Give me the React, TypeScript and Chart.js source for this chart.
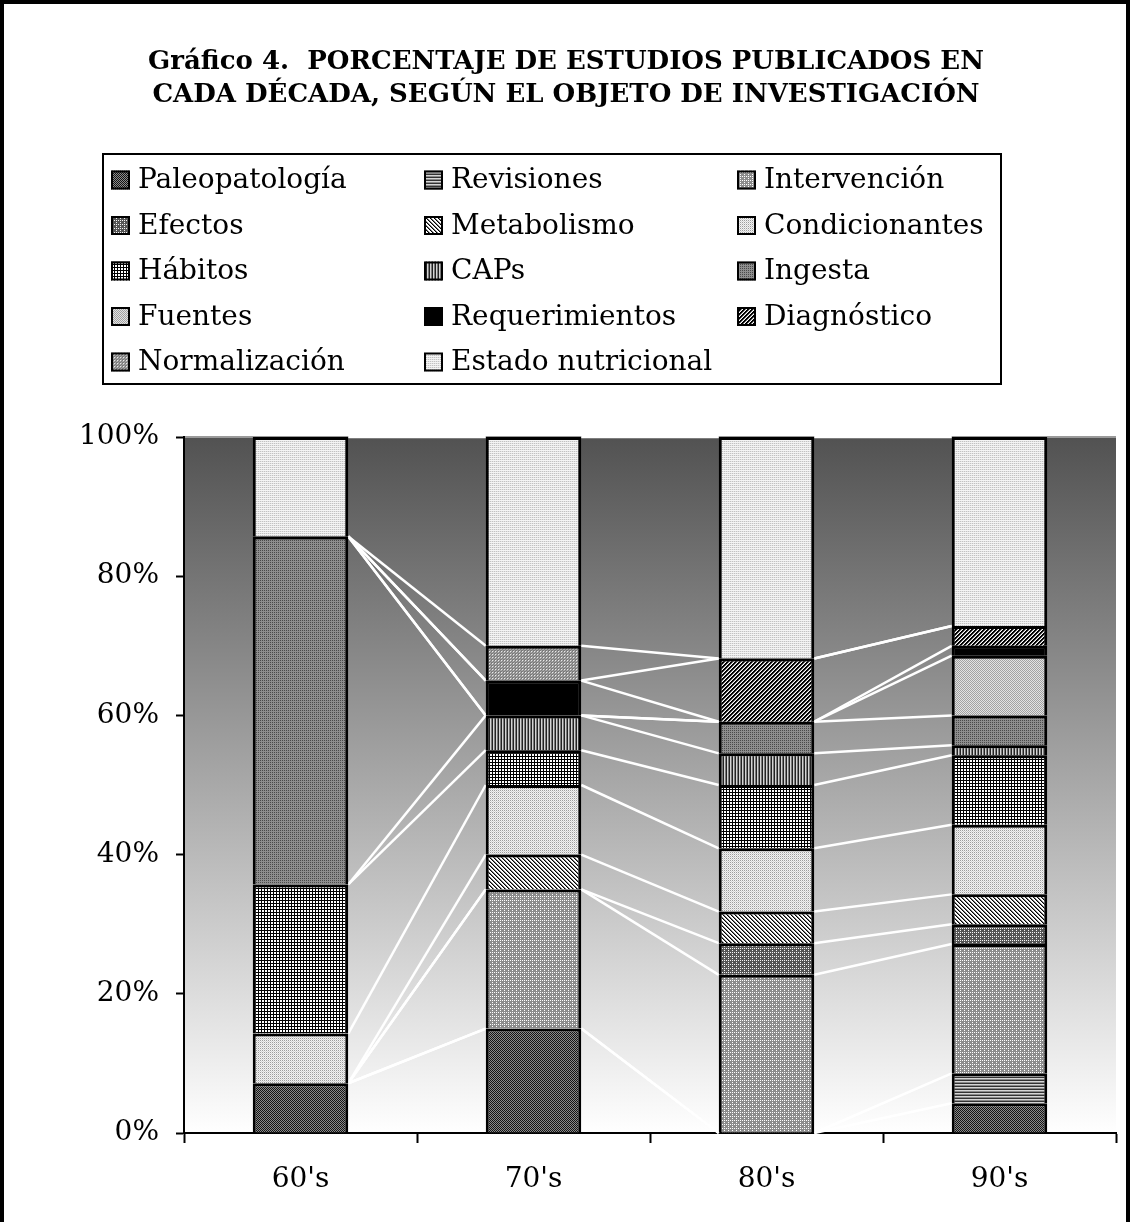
import React, { useEffect, useRef } from 'react';
import { Chart, registerables } from 'chart.js';

Chart.register(...registerables);

// ---------- data (number of studies per decade, shown as 100% stacked) ----------
const decades = ["60's", "70's", "80's", "90's"];

const paleopatologia = [1, 3, 0, 3];
const revisiones = [0, 0, 0, 3];
const intervencion = [0, 4, 5, 13];
const efectos = [0, 0, 1, 2];
const metabolismo = [0, 1, 1, 3];
const condicionantes = [1, 2, 2, 7];
const habitos = [3, 1, 2, 7];
const caps = [0, 1, 1, 1];
const ingesta = [7, 0, 1, 3];
const fuentes = [0, 0, 0, 6];
const requerimientos = [0, 1, 0, 1];
const diagnostico = [0, 0, 2, 2];
const normalizacion = [0, 1, 0, 0];
const estadoNutricional = [2, 6, 7, 19];

const seriesNames = [
  'Paleopatología', 'Revisiones', 'Intervención',
  'Efectos', 'Metabolismo', 'Condicionantes',
  'Hábitos', 'CAPs', 'Ingesta',
  'Fuentes', 'Requerimientos', 'Diagnóstico',
  'Normalización', 'Estado nutricional',
];
const seriesCounts = [
  paleopatologia, revisiones, intervencion, efectos, metabolismo, condicionantes,
  habitos, caps, ingesta, fuentes, requerimientos, diagnostico, normalizacion, estadoNutricional,
];

const yTickStep = 20;
const titleLines = [
  'Gráfico 4.  PORCENTAJE DE ESTUDIOS PUBLICADOS EN',
  'CADA DÉCADA, SEGÚN EL OBJETO DE INVESTIGACIÓN',
];

const FONT = '"DejaVu Serif", "Liberation Serif", serif';

function makePattern(w: number, h: number, f: (x: number, y: number) => string): CanvasPattern | string {
  const c = document.createElement('canvas');
  c.width = w;
  c.height = h;
  const g = c.getContext('2d')!;
  for (let y = 0; y < h; y++) {
    for (let x = 0; x < w; x++) {
      g.fillStyle = f(x, y);
      g.fillRect(x, y, 1, 1);
    }
  }
  const p = g.createPattern(c, 'repeat');
  return p || '#888';
}

const gridDots = (x: number, y: number) => (x % 4 === 0 && y % 2 === 0) || (y % 4 === 0 && x % 2 === 0);

function buildPatterns(): (CanvasPattern | string)[] {
  return [
    // Paleopatología
    makePattern(2, 2, (x, y) => ((x + y) % 2 === 0 ? '#141414' : '#8a8a8a')),
    // Revisiones
    makePattern(1, 3, (_x, y) => ['#333333', '#d6d6d6', '#8a8a8a'][y]),
    // Intervención
    makePattern(4, 4, (x, y) => (gridDots(x, y) ? '#ffffff' : '#8c8c8c')),
    // Efectos
    makePattern(4, 4, (x, y) => (gridDots(x, y) ? '#f4f4f4' : '#555555')),
    // Metabolismo
    makePattern(4, 4, (x, y) => {
      const k = (((x - y) % 4) + 4) % 4;
      return k === 0 ? '#000000' : k === 1 ? '#7a7a7a' : '#ffffff';
    }),
    // Condicionantes
    makePattern(2, 2, (x, y) => (x === 0 && y === 0 ? '#9c9c9c' : x === 1 && y === 1 ? '#d4d4d4' : '#f2f2f2')),
    // Hábitos
    makePattern(3, 3, (x, y) => (x % 3 === 0 || y % 3 === 0 ? '#000000' : '#ffffff')),
    // CAPs
    makePattern(3, 1, (x) => ['#222222', '#d4d4d4', '#7a7a7a'][x]),
    // Ingesta
    makePattern(2, 2, (x, y) => (x === 0 && y === 0 ? '#4a4a4a' : '#8e8e8e')),
    // Fuentes
    makePattern(2, 2, (x, y) => ((x + y) % 2 === 0 ? '#a2a2a2' : '#e2e2e2')),
    // Requerimientos
    '#000000',
    // Diagnóstico
    makePattern(4, 4, (x, y) => {
      const k = (x + y) % 4;
      return k === 0 || k === 1 ? '#000000' : k === 2 ? '#888888' : '#ffffff';
    }),
    // Normalización
    makePattern(3, 3, (x, y) => (x === 0 && y === 0 ? '#e8e8e8' : (x + y) % 2 === 0 ? '#7c7c7c' : '#a6a6a6')),
    // Estado nutricional
    makePattern(2, 2, (x, y) => (y === 0 ? '#f4f4f4' : x === 0 ? '#c2c2c2' : '#e4e4e4')),
  ];
}

const decorPlugin = {
  id: 'decor',
  beforeDraw(chart: any) {
    const { ctx, chartArea } = chart;
    const { left, right, top, bottom } = chartArea;
    ctx.save();
    ctx.fillStyle = '#ffffff';
    ctx.fillRect(0, 0, chart.width, chart.height);
    const grad = ctx.createLinearGradient(0, top, 0, bottom);
    grad.addColorStop(0, '#525252');
    grad.addColorStop(1, '#ffffff');
    ctx.fillStyle = grad;
    ctx.fillRect(left, top, right - left, bottom - top);
    ctx.strokeStyle = '#9a9a9a';
    ctx.lineWidth = 2;
    ctx.beginPath();
    ctx.moveTo(left, top);
    ctx.lineTo(right, top);
    ctx.stroke();
    ctx.restore();
  },
  beforeDatasetsDraw(chart: any) {
    const { ctx } = chart;
    ctx.save();
    ctx.strokeStyle = '#ffffff';
    ctx.lineWidth = 2.5;
    chart.data.datasets.forEach((_ds: any, d: number) => {
      const meta = chart.getDatasetMeta(d);
      for (let j = 0; j < meta.data.length - 1; j++) {
        const a = meta.data[j];
        const b = meta.data[j + 1];
        ctx.beginPath();
        ctx.moveTo(a.x + a.width / 2, a.y);
        ctx.lineTo(b.x - b.width / 2, b.y);
        ctx.stroke();
      }
    });
    ctx.restore();
  },
  afterDraw(chart: any) {
    const { ctx } = chart;
    ctx.save();
    // outer frame
    ctx.strokeStyle = '#000000';
    ctx.lineWidth = 4;
    ctx.beginPath();
    ctx.moveTo(2, chart.height);
    ctx.lineTo(2, 2);
    ctx.lineTo(chart.width - 2, 2);
    ctx.lineTo(chart.width - 2, chart.height);
    ctx.stroke();

    // title
    ctx.fillStyle = '#000000';
    ctx.font = `bold 26px ${FONT}`;
    ctx.textAlign = 'center';
    ctx.textBaseline = 'alphabetic';
    ctx.fillText(titleLines[0], 566, 69);
    ctx.fillText(titleLines[1], 566, 102);

    // legend box
    ctx.lineWidth = 2;
    ctx.strokeRect(103, 154, 898, 230);
    ctx.font = `28px ${FONT}`;
    ctx.textAlign = 'left';
    ctx.textBaseline = 'middle';
    chart.data.datasets.forEach((ds: any, i: number) => {
      const col = i % 3;
      const row = Math.floor(i / 3);
      const mx = 111 + col * 313;
      const cy = 180 + row * 45.5;
      const s = 19;
      ctx.fillStyle = ds.backgroundColor;
      ctx.fillRect(mx, cy - s / 2, s, s);
      ctx.lineWidth = 2;
      ctx.strokeStyle = '#000000';
      ctx.strokeRect(mx + 1, cy - s / 2 + 1, s - 2, s - 2);
      ctx.fillStyle = '#000000';
      ctx.fillText(ds.label, mx + 27, cy + 1);
    });
    ctx.restore();
  },
};

export default function App() {
  const ref = useRef<HTMLCanvasElement>(null);

  useEffect(() => {
    if (!ref.current) return;
    const patterns = buildPatterns();
    const totals = decades.map((_, j) => seriesCounts.reduce((s, arr) => s + arr[j], 0));
    const datasets = seriesNames.map((name, i) => ({
      label: name,
      data: seriesCounts[i].map((v, j) => (v / totals[j]) * 100),
      backgroundColor: patterns[i],
      borderColor: '#000000',
      borderWidth: 3,
      barPercentage: 0.41,
      categoryPercentage: 1,
    }));

    const chart = new Chart(ref.current, {
      type: 'bar',
      data: { labels: decades, datasets },
      options: {
        responsive: false,
        animation: false,
        devicePixelRatio: 1,
        layout: { padding: { top: 437, left: 0, right: 14, bottom: 0 } },
        plugins: {
          legend: { display: false },
          title: { display: false },
          tooltip: { enabled: false },
        },
        scales: {
          x: {
            stacked: true,
            afterFit: (s: any) => { s.height = 89; },
            border: { display: true, color: '#000000', width: 2 },
            grid: {
              offset: true,
              drawOnChartArea: false,
              drawTicks: true,
              tickLength: 10,
              tickColor: '#000000',
              tickWidth: 2,
            },
            ticks: {
              color: '#000000',
              font: { family: FONT, size: 28 },
              padding: 20,
            },
          },
          y: {
            stacked: true,
            min: 0,
            max: 100,
            afterFit: (s: any) => { s.width = 184; },
            border: { display: true, color: '#000000', width: 2 },
            grid: {
              drawOnChartArea: false,
              drawTicks: true,
              tickLength: 8,
              tickColor: '#000000',
              tickWidth: 2,
            },
            ticks: {
              stepSize: yTickStep,
              color: '#000000',
              font: { family: FONT, size: 28 },
              padding: 17,
              callback: (v: any) => `${v}%`,
            },
          },
        },
      },
      plugins: [decorPlugin],
    });
    return () => chart.destroy();
  }, []);

  return (
    <div style={{ position: 'absolute', left: 0, top: 0, width: 1130, height: 1222 }}>
      <canvas ref={ref} width={1130} height={1222} style={{ display: 'block', width: 1130, height: 1222 }} />
    </div>
  );
}
